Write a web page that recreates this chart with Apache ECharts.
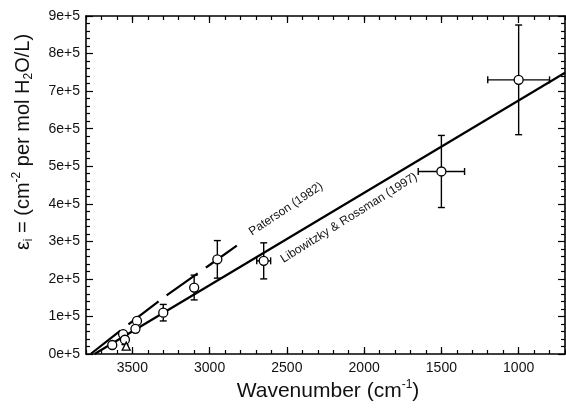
<!DOCTYPE html>
<html>
<head>
<meta charset="utf-8">
<script src="https://cdn.jsdelivr.net/npm/echarts@6/dist/echarts.min.js"></script>
<style>html,body{margin:0;padding:0;background:#fff}#c{width:566px;height:409px}</style>
</head>
<body>
<div id="c"></div>
<script>
// ---- data ----
const xMajorTicks = [1000, 1500, 2000, 2500, 3000, 3500];
const yTickValues = [0, 100000, 200000, 300000, 400000, 500000, 600000, 700000, 800000, 900000];

// measured points (circles): wavenumber, epsilon, x error, y error
const circleWn   = [1000,   1500,   2650,   2950,   3100,   3300,   3470,  3480,  3560,  3548,  3630];
const circleEps  = [730000, 486000, 248000, 252000, 177000, 110000, 88000, 67000, 53000, 38000, 24000];
const circleXErr = [200,    150,    45,     0,      0,      0,      0,     0,     0,     0,     0];
const circleYErr = [146000, 96000,  48000,  50000,  33000,  22000,  0,     8000,  0,     13000, 0];

// triangle point
const triWn  = [3540];
const triEps = [21000];

// Libowitzky & Rossman (1997) calibration line (end points)
const lrWn  = [3745, 700];
const lrEps = [0, 749000];

// Paterson (1982) calibration (dashed)
const patWn  = [3770, 3600, 3300, 3000, 2795];
const patEps = [0, 55000, 150000, 237000, 297000];

// ---- chart ----
const FONT = "'Liberation Sans', Arial, Helvetica, sans-serif";
const chart = echarts.init(document.getElementById('c'), null, {renderer: 'canvas'});

const pts = circleWn.map((w, i) => [w, circleEps[i], circleXErr[i], circleYErr[i]]);

function xAxisCfg(pos, major) {
  const a = {
    type: 'value', position: pos, min: 700, max: 3800, inverse: true,
    splitLine: {show: false},
    axisLine: {show: major, onZero: false, lineStyle: {color: '#000', width: 1.6}},
    axisTick: {show: true, inside: true, length: major ? 7 : 4, lineStyle: {color: '#000', width: 1.2}},
    axisLabel: {show: false}
  };
  if (major) {
    a.axisTick.customValues = xMajorTicks;
    if (pos === 'bottom') {
      a.axisLabel = {show: true, customValues: xMajorTicks, color: '#111', fontSize: 14, fontFamily: FONT, margin: 7,
        formatter: v => String(v)};
    }
  } else {
    a.interval = 100;
  }
  return a;
}
function yAxisCfg(pos) {
  return {
    type: 'value', position: pos, min: 0, max: 900000, interval: 100000,
    splitLine: {show: false},
    axisLine: {show: true, onZero: false, lineStyle: {color: '#000', width: 1.6}},
    axisTick: {show: true, inside: true, length: 7, lineStyle: {color: '#000', width: 1.2}},
    minorTick: {show: true, splitNumber: 5, length: 4, lineStyle: {color: '#000', width: 1.2}},
    axisLabel: {show: pos === 'left', color: '#111', fontSize: 14, fontFamily: FONT, margin: 6,
      formatter: v => (v / 100000) + 'e+5'}
  };
}

const option = {
  animation: false,
  backgroundColor: '#fff',
  grid: {left: 86, right: 1, top: 16, bottom: 55, containLabel: false},
  xAxis: [xAxisCfg('bottom', true), xAxisCfg('bottom', false), xAxisCfg('top', true), xAxisCfg('top', false)],
  yAxis: [yAxisCfg('left'), yAxisCfg('right')],
  series: [
    {
      type: 'custom', name: 'errors', xAxisIndex: 0, yAxisIndex: 0, z: 2,
      data: pts,
      renderItem: function (params, api) {
        const x = api.value(0), y = api.value(1), ex = api.value(2), ey = api.value(3);
        const ch = [];
        const st = {stroke: '#000', lineWidth: 1.4};
        const cap = 3.5;
        if (ey > 0) {
          const p1 = api.coord([x, y - ey]), p2 = api.coord([x, y + ey]);
          ch.push({type: 'line', shape: {x1: p1[0], y1: p1[1], x2: p2[0], y2: p2[1]}, style: st});
          ch.push({type: 'line', shape: {x1: p1[0] - cap, y1: p1[1], x2: p1[0] + cap, y2: p1[1]}, style: st});
          ch.push({type: 'line', shape: {x1: p2[0] - cap, y1: p2[1], x2: p2[0] + cap, y2: p2[1]}, style: st});
        }
        if (ex > 0) {
          const p1 = api.coord([x - ex, y]), p2 = api.coord([x + ex, y]);
          ch.push({type: 'line', shape: {x1: p1[0], y1: p1[1], x2: p2[0], y2: p2[1]}, style: st});
          ch.push({type: 'line', shape: {x1: p1[0], y1: p1[1] - cap, x2: p1[0], y2: p1[1] + cap}, style: st});
          ch.push({type: 'line', shape: {x1: p2[0], y1: p2[1] - cap, x2: p2[0], y2: p2[1] + cap}, style: st});
        }
        return {type: 'group', children: ch};
      }
    },
    {
      type: 'line', name: 'Libowitzky & Rossman (1997)', xAxisIndex: 0, yAxisIndex: 0, z: 3,
      data: lrWn.map((w, i) => [w, lrEps[i]]), symbol: 'none', silent: true,
      lineStyle: {color: '#000', width: 2.2}
    },
    {
      type: 'line', name: 'Paterson (1982)', xAxisIndex: 0, yAxisIndex: 0, z: 3,
      data: patWn.map((w, i) => [w, patEps[i]]), symbol: 'none', silent: true,
      lineStyle: {color: '#000', width: 2.2, type: [38, 10]}
    },
    {
      type: 'scatter', xAxisIndex: 0, yAxisIndex: 0, z: 5,
      data: pts.map(p => [p[0], p[1]]), symbol: 'circle', symbolSize: 9,
      itemStyle: {color: '#fff', borderColor: '#000', borderWidth: 1.3, opacity: 1}
    },
    {
      type: 'scatter', xAxisIndex: 0, yAxisIndex: 0, z: 5,
      data: triWn.map((w, i) => [w, triEps[i]]), symbol: 'triangle', symbolSize: 8,
      itemStyle: {color: '#fff', borderColor: '#000', borderWidth: 1.3, opacity: 1}
    }
  ],
  graphic: [
    {
      type: 'text', x: 328, y: 391, z: 10,
      style: {
        text: 'Wavenumber (cm{sup|-1})', fill: '#111', font: '21px ' + FONT,
        align: 'center', verticalAlign: 'middle', lineHeight: 24,
        rich: {sup: {fontSize: 12, fontFamily: FONT, fill: '#111', lineHeight: 12, verticalAlign: 'top'}}
      }
    },
    {
      type: 'text', x: 23, y: 142, rotation: Math.PI / 2, z: 10,
      style: {
        text: 'ε{sub|i} = (cm{sup|-2} per mol H{sub|2}O/L)', fill: '#111', font: '20px ' + FONT,
        align: 'center', verticalAlign: 'middle', lineHeight: 24,
        rich: {
          sup: {fontSize: 12, fontFamily: FONT, fill: '#111', lineHeight: 12, verticalAlign: 'top'},
          sub: {fontSize: 12, fontFamily: FONT, fill: '#111', lineHeight: 12, verticalAlign: 'bottom'}
        }
      }
    },
    {
      type: 'text', x: 286, y: 209, rotation: 0.59, z: 10,
      style: {text: 'Paterson (1982)', fill: '#111', font: '12px ' + FONT, align: 'center', verticalAlign: 'middle'}
    },
    {
      type: 'text', x: 349, y: 218, rotation: 0.56, z: 10,
      style: {text: 'Libowitzky & Rossman (1997)', fill: '#111', font: '12px ' + FONT, align: 'center', verticalAlign: 'middle'}
    }
  ]
};
chart.setOption(option);
</script>
</body>
</html>
